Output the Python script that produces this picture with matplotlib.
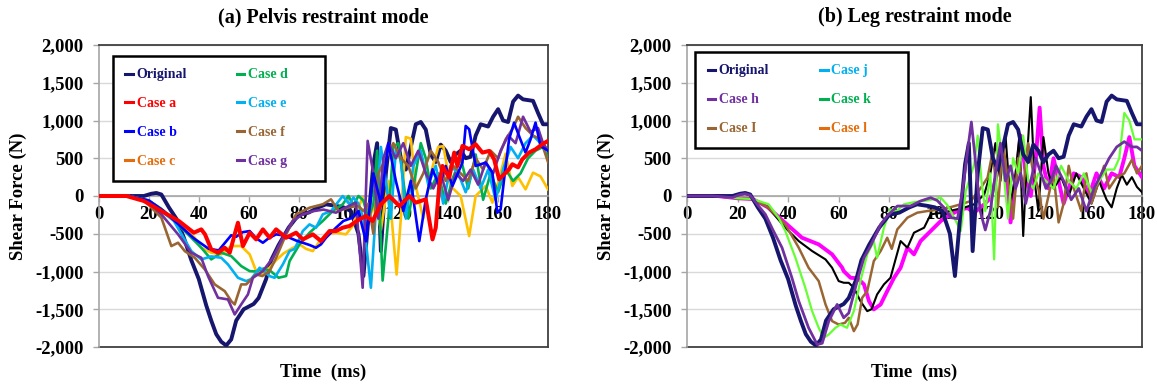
import matplotlib
matplotlib.use("Agg")
import matplotlib.pyplot as plt
from matplotlib.lines import Line2D
from matplotlib.ticker import FuncFormatter

plt.rcParams['font.family'] = ['Liberation Serif', 'DejaVu Serif']
plt.rcParams['font.weight'] = 'bold'

# ---------------- data ----------------
x_ticks = [0, 20, 40, 60, 80, 100, 120, 140, 160, 180]
y_ticks = [-2000, -1500, -1000, -500, 0, 500, 1000, 1500, 2000]

orig_t = [0, 10, 18, 21, 23, 25, 28, 31, 34, 37, 40, 43, 45, 47, 49, 51, 53, 55, 58, 62, 64, 67, 69, 72, 76, 80,
          84, 88, 91, 95, 98, 101, 104, 106, 108, 110, 111.5, 113, 115, 117, 119, 121, 123, 125, 127, 129, 131,
          133, 135, 137, 139, 141, 143, 145, 147, 149, 151, 153, 156, 158, 160, 162, 164, 166, 168, 170, 172,
          174, 176, 178, 180]
orig_v = [0, 0, 0, 30, 40, 20, -150, -300, -550, -850, -1100, -1450, -1650, -1830, -1930, -1980, -1900, -1650,
          -1500, -1430, -1350, -1100, -850, -650, -420, -250, -220, -150, -110, -130, -150, -200, -500, -1060,
          -300, 420, 700, -730, 300, 900, 880, 500, 350, 650, 950, 980, 880, 550, 450, 680, 600, 450, 550, 600,
          500, 520, 800, 950, 920, 1050, 1150, 1000, 980, 1250, 1330, 1280, 1270, 1260, 1100, 950, 950]

a_t = [0, 11, 18, 25, 32, 38, 41, 42.5, 45, 47.7, 50.4, 52.4, 54.4, 55.7, 57.7, 60.4, 63, 65.7, 68.4, 71, 75, 79,
       81.7, 85.7, 89, 92.4, 95, 97.7, 100.4, 104.4, 107, 109.7, 113, 116.4, 120.4, 124.4, 127, 131, 133.7, 135,
       136.4, 137.7, 140.4, 142.4, 143.7, 145.7, 148.4, 151, 153.7, 156.4, 158.4, 160.4, 161.7, 164.4, 165.7,
       168, 169.7, 172.4, 175, 177.7, 180]
a_v = [0, 0, -66, -199, -331, -486, -442, -508, -707, -751, -685, -751, -508, -354, -663, -486, -575, -442, -553,
       -442, -553, -486, -575, -508, -597, -464, -464, -420, -398, -309, -265, -331, -110, 0, -133, 0, -88, -44,
       -575, -420, 133, 398, 243, 575, 398, 663, 619, 685, 575, 597, 486, 221, 265, 354, 420, 380, 486, 575,
       619, 685, 730]

b_t = [0, 12, 20, 26, 32, 38, 44, 48, 51, 53, 55, 57.5, 60.4, 63, 65.7, 68, 71, 73.5, 76.4, 79, 81.7, 84.5, 87,
       89, 91, 95, 98, 101.7, 104, 107, 110, 113, 116, 119, 122, 125, 128.4, 131, 133.7, 136.4, 139, 141.7,
       145.7, 147, 148.4, 151, 155, 157.7, 159.7, 161, 162.4, 164.4, 166.4, 168.4, 171, 173, 175, 177, 180]
b_v = [0, 0, -60, -200, -380, -560, -700, -720, -600, -520, -540, -480, -464, -560, -619, -560, -508, -520, -553,
       -590, -619, -650, -685, -640, -553, -420, -330, -287, -200, -600, 300, -100, 700, 200, -200, 200, -597,
       -44, 354, 133, 398, 133, 442, 928, 884, 398, 442, 309, -221, -177, 221, 751, 972, 795, 575, 750, 972,
       663, 600]

c_t = [0, 12, 20, 25, 32, 38.4, 41, 45, 49, 53, 57, 60.4, 63, 65, 68.4, 71, 74, 77, 80.4, 83, 85.7, 88, 91, 95,
       99, 101.7, 104, 105.7, 108, 111, 113, 116, 119.3, 121, 123, 125, 127, 130, 133, 136, 138, 141, 145, 148.4,
       151, 155, 157.7, 160.4, 163, 165.7, 168, 171, 174, 177, 180]
c_v = [0, 0, -70, -199, -360, -553, -685, -751, -773, -663, -663, -773, -995, -1039, -950, -850, -760, -700,
       -640, -700, -730, -620, -508, -486, -508, -398, -150, -22, -300, -100, -450, 200, -1040, -300, 780, 760,
       130, -300, 300, 650, 660, 130, 0, -530, 0, 133, -88, 221, 560, 133, 250, 88, 309, 260, 88]

d_t = [0, 12, 20, 25, 29, 35.7, 41, 45, 49, 53, 57, 60.4, 63, 66, 69, 72, 75, 76.4, 80.4, 84.4, 89.7, 93.7, 97.7,
       100, 102, 104, 106, 108, 110, 111.5, 113.7, 116, 118, 120, 122, 124, 126, 129, 131, 133, 136, 139, 142,
       145, 148, 151, 154, 157, 160, 163, 166, 169, 172, 175, 178, 180]
d_v = [0, 0, -60, -170, -287, -508, -685, -840, -751, -796, -928, -995, -1000, -960, -1000, -1083, -1060, -862,
       -640, -486, -331, -199, -110, 0, -120, 0, -60, -300, -100, 600, -1120, -300, 650, 700, 200, -300, 100,
       700, 500, 100, 300, -100, 250, 500, 100, 550, -50, 300, 50, 350, 200, 300, 500, 600, 650, 500]

e_t = [0, 12, 20, 25, 30, 37, 41, 45, 49, 51.7, 55.7, 59, 61, 64.4, 68.4, 70.4, 73.7, 76.4, 78.5, 81.7, 84.4, 87,
       89.7, 93, 97.7, 100.4, 102, 104, 106, 109, 111, 113, 115, 117, 119, 121, 123, 126, 129, 132, 135, 138,
       141, 144, 147, 150, 153, 156, 159, 162, 165, 168, 171, 174, 177, 180]
e_v = [0, 0, -60, -200, -330, -730, -840, -800, -818, -906, -1083, -1127, -1100, -950, -1061, -1083, -906, -729,
       -700, -464, -376, -420, -243, -200, 0, -110, -20, -100, -300, -1215, -200, 650, 200, -300, 600, 500,
       -300, 400, 600, 150, 400, -100, 400, 300, 50, 350, 100, 350, -50, 350, 650, 500, 700, 800, 700, 600]

f_t = [0, 12, 18.4, 25, 29, 31.7, 34.4, 38.4, 42.4, 46.4, 50.4, 53, 54.4, 57, 59, 63, 65.5, 68.4, 71, 75, 79,
       84.4, 89.7, 93, 96, 100, 104, 106, 108, 110, 112, 115, 118, 121, 124, 127, 130, 133, 136, 139, 142, 145,
       148, 151, 154, 157, 160, 163, 166, 168, 171, 174, 177, 180]
f_v = [0, 0, -66, -287, -663, -619, -730, -818, -972, -1171, -1260, -1392, -1436, -1171, -1171, -1039, -1060,
       -995, -818, -508, -243, -155, -110, -44, -200, -150, -130, -200, -100, -500, 300, 500, 700, 500, 400, 100,
       300, 600, 450, 200, 400, 300, 200, 500, 350, 600, 500, 750, 900, 1050, 900, 800, 750, 450]

g_t = [0, 12, 20, 25, 31.7, 37, 41, 43.7, 47.7, 51.7, 54.4, 57, 59.7, 61.7, 65.7, 69.7, 73.7, 77.7, 81.7, 86,
       90, 95, 99, 103, 105.7, 107.7, 110, 112, 114, 116, 119, 122, 125, 128, 131, 134, 137, 140, 143, 146, 149,
       152, 155, 158, 161, 164, 167, 170, 173, 176, 178, 180]
g_v = [0, 0, -80, -243, -508, -751, -818, -1061, -1348, -1370, -1569, -1436, -1304, -1083, -995, -818, -553,
       -331, -243, -200, -180, -221, -150, -88, -1215, 730, 300, -300, 500, 700, 500, 700, 400, 600, 300, 100,
       300, -50, 300, 200, 350, 150, 450, 300, 600, 800, 700, 1050, 850, 900, 700, 600]

h_t = [0, 10, 18, 21, 23, 25, 28, 31, 34, 37.6, 41.5, 44.2, 48.1, 51.5, 53.5, 56.1, 59.4, 62, 64, 67.3, 70, 72.6,
       76.6, 79.2, 83.2, 88.5, 92.4, 96.4, 99, 101.7, 104.4, 107, 109, 111, 112.5, 114, 116, 118, 120, 122, 124,
       126, 128, 130, 132, 134, 136, 138, 140, 142, 144, 146, 149, 152, 155, 158, 161, 164, 167, 170, 173, 176,
       178, 180]
h_v = [0, 0, -20, 20, 30, 10, -120, -243, -450, -685, -1083, -1392, -1746, -1967, -1950, -1657, -1436, -1613,
       -1550, -1127, -818, -663, -376, -265, -133, -133, -66, -22, -60, -155, -287, -300, 66, 600, 980, 500,
       -200, -450, -200, 300, 700, 200, 400, 100, 300, -100, 200, 500, 300, 100, 200, 400, 200, -50, 100, -200,
       100, 300, 500, 650, 720, 650, 650, 600]

k_t = [0, 12, 20, 26, 32.3, 36.2, 38.9, 42.9, 46.8, 49.5, 52.1, 54.1, 56.1, 58.7, 60.7, 63.3, 66, 68.6, 71.3,
       73.9, 75.2, 77.9, 80.5, 83, 85.8, 90, 95, 100.4, 103, 105.7, 108.3, 110.3, 113.6, 115, 116.5, 118, 120,
       121.5, 123, 125, 127, 129, 131, 133, 135, 137, 139, 142, 145, 148, 151, 154, 157, 160, 163, 166, 169,
       171, 173, 175, 177, 180]
k_v = [0, 0, -30, -40, -110, -287, -464, -818, -1215, -1525, -1746, -1878, -1834, -1746, -1702, -1746, -1525,
       -1127, -773, -600, -818, -420, -177, -200, -110, -80, -60, -22, -120, -287, -464, 66, 420, 800, 200,
       -200, 300, -840, 950, 400, -300, 500, 300, 800, 200, 100, 300, 200, 100, 400, 200, 100, 300, 50, 200,
       350, 350, 500, 1100, 1000, 750, 750]

i_t = [0, 12, 20, 26, 32, 38.9, 44.2, 48.1, 52.1, 54.8, 57.4, 60, 62.5, 64, 66, 67.5, 69.3, 71.3, 73.9, 76.6,
       79.2, 81, 83.2, 87.2, 91.1, 95.1, 100.4, 104, 108.3, 112.3, 116.3, 118.9, 121, 123, 125, 127, 129, 131,
       133, 135, 137, 139, 141, 143, 145, 147, 149, 151, 153, 156, 158, 160, 163, 165, 167, 170, 173, 176, 178,
       180]
i_v = [0, 0, -30, -40, -150, -376, -685, -950, -1127, -1436, -1657, -1702, -1680, -1613, -1790, -1700, -1348,
       -1260, -862, -729, -553, -700, -442, -287, -221, -199, -177, -150, -110, -66, 110, 243, 600, -150, 700,
       200, -300, 500, 100, 700, 300, 100, -300, 0, 300, -350, -100, 400, 100, -200, 300, -100, 200, 400, 100,
       250, 300, 480, 300, 400]

j_t = [0, 12, 20, 26, 32, 38.9, 44.2, 49.5, 54.8, 57.4, 60, 62, 64, 66, 68.6, 71.3, 73, 75.2, 77.9, 80.5, 82,
       84.5, 87.2, 89.8, 93.8, 96.4, 99, 101.7, 105, 109.6, 113.6, 117.6, 120, 122, 124, 126, 128, 130, 131.5,
       133, 134.5, 136, 137.5, 139, 141, 143, 145, 148, 151, 154, 157, 160, 163, 166, 168, 170, 172, 174, 176,
       178, 180]
j_v = [0, 0, -30, -40, -150, -420, -597, -729, -840, -950, -1127, -1149, -1150, -1215, -1392, -1525, -1500,
       -1304, -1171, -1083, -900, -597, -685, -486, -420, -243, -230, -221, -190, -155, -110, 22, 300, 700, 200,
       800, -100, 300, 800, -530, 500, 1310, 200, -200, 780, 300, 100, 250, 0, 300, 100, -100, 200, -50, -150,
       100, 280, 150, 250, 120, 50]

l_t = [0, 12, 20, 26, 32, 38, 45.5, 52.1, 57.4, 61.4, 62, 64.7, 67.5, 70, 72, 73.9, 76.6, 79.2, 81.9, 84.5, 87.2,
       89.8, 92.4, 96.4, 100.4, 104, 108.3, 111, 113.6, 117.6, 120.2, 122, 124, 126, 128, 130, 132, 134, 136,
       138, 139.5, 141, 143, 145, 147, 149, 151, 153, 156, 159, 162, 165, 168, 171, 173, 175, 177, 180]
l_v = [0, 0, -30, -40, -150, -330, -553, -641, -773, -950, -995, -1083, -1090, -1171, -1392, -1502, -1436, -1260,
       -1083, -950, -685, -773, -597, -464, -331, -250, -177, -160, -221, -110, -22, 200, 600, 300, -350, 200,
       800, 300, 0, 500, 1170, 400, 100, 500, 200, -100, 100, 300, 250, 0, 300, 100, 300, 250, 500, 780, 400,
       250]

legend_a_labels = ['Original', 'Case a', 'Case b', 'Case c', 'Case d', 'Case e', 'Case f', 'Case g']
legend_b_labels = ['Original', 'Case h', 'Case I', 'Case j', 'Case k', 'Case l']

# ---------------- styles ----------------
NAVY = '#16166E'
C_RED = '#FF0000'
C_BLUE = '#0000FF'
C_YEL = '#FFC000'
C_ORG = '#E46C0A'
C_GRN = '#00B050'
C_CYN = '#00B0F0'
C_BRN = '#996633'
C_PUR = '#7030A0'
C_LGRN = '#66FF33'
C_MAG = '#FF00FF'
C_BLK = '#000000'

W, H = 1157, 386
fig = plt.figure(figsize=(W / 100, H / 100), dpi=100)
fig.patch.set_facecolor('white')

ax_a = fig.add_axes([99 / W, 1 - 347 / H, 449 / W, 302 / H])
ax_b = fig.add_axes([687 / W, 1 - 347 / H, 455 / W, 302 / H])

fmt = FuncFormatter(lambda v, p: f"{int(v):,}")


def style_axes(ax):
    ax.set_xlim(0, 180)
    ax.set_ylim(-2000, 2000)
    ax.set_xticks(x_ticks)
    ax.set_yticks(y_ticks)
    ax.yaxis.set_major_formatter(fmt)
    ax.grid(axis='y', color='#D9D9D9', lw=1.0, zorder=0)
    ax.set_axisbelow(True)
    ax.spines['bottom'].set_position(('data', 0))
    ax.spines['bottom'].set_color('#A6A6A6')
    ax.spines['bottom'].set_linewidth(1.2)
    ax.spines['left'].set_color('#A6A6A6')
    ax.spines['left'].set_linewidth(1.2)
    for s in ('top', 'right'):
        ax.spines[s].set_color('#404040')
        ax.spines[s].set_linewidth(1.3)
    ax.axhline(-2000, color='#404040', lw=1.3, clip_on=False, zorder=1)
    ax.tick_params(axis='x', direction='out', length=4, width=1, color='#A6A6A6', pad=3, labelsize=13.5)
    ax.tick_params(axis='y', direction='out', length=4, width=1, color='#A6A6A6', pad=7, labelsize=13.5)
    for lab in ax.get_xticklabels() + ax.get_yticklabels():
        lab.set_fontweight('bold')
    ax.set_ylabel('Shear Force (N)', fontsize=13.5, fontweight='bold', labelpad=6)
    ax.text(0.5, -0.085, 'Time  (ms)', transform=ax.transAxes, ha='center', va='center',
            fontsize=13.5, fontweight='bold')


style_axes(ax_a)
style_axes(ax_b)

# ---------------- panel (a) ----------------
ax_a.plot(orig_t, orig_v, color=NAVY, lw=2.8, zorder=3, solid_joinstyle='round')
ax_a.plot(c_t, c_v, color=C_YEL, lw=1.9, zorder=3, solid_joinstyle='round')
ax_a.plot(d_t, d_v, color=C_GRN, lw=1.9, zorder=3, solid_joinstyle='round')
ax_a.plot(e_t, e_v, color=C_CYN, lw=1.9, zorder=3, solid_joinstyle='round')
ax_a.plot(f_t, f_v, color=C_BRN, lw=1.9, zorder=3, solid_joinstyle='round')
ax_a.plot(g_t, g_v, color=C_PUR, lw=1.9, zorder=3, solid_joinstyle='round')
ax_a.plot(b_t, b_v, color=C_BLUE, lw=1.9, zorder=3, solid_joinstyle='round')
ax_a.plot(a_t, a_v, color=C_RED, lw=2.9, zorder=4, solid_joinstyle='round')

# ---------------- panel (b) ----------------
ax_b.plot(l_t, l_v, color=C_MAG, lw=2.8, zorder=3, solid_joinstyle='round')
ax_b.plot(j_t, j_v, color=C_BLK, lw=1.5, zorder=3, solid_joinstyle='round')
ax_b.plot(i_t, i_v, color=C_BRN, lw=1.8, zorder=3, solid_joinstyle='round')
ax_b.plot(k_t, k_v, color=C_LGRN, lw=1.6, zorder=3, solid_joinstyle='round')
ax_b.plot(orig_t, orig_v, color=NAVY, lw=2.8, zorder=3, solid_joinstyle='round')
ax_b.plot(h_t, h_v, color=C_PUR, lw=2.0, zorder=3, solid_joinstyle='round')


# ---------------- legends ----------------
def add_legend(ax, labels, colors, anchor):
    n = len(labels) // 2
    # trailing spaces widen the second column so it sits where the reference puts it
    shown = labels[:n] + [lab + '       ' for lab in labels[n:]]
    handles = [Line2D([], [], color=c, lw=2.2) for c in colors]
    leg = ax.legend(handles, shown, ncol=2, loc='upper left', bbox_to_anchor=anchor, mode='expand',
                    frameon=True, fancybox=False, shadow=False, framealpha=1, edgecolor='black',
                    handlelength=0.55, handletextpad=0.25, borderpad=0.9, labelspacing=1.15,
                    columnspacing=1.0, borderaxespad=0,
                    prop={'family': 'Liberation Serif', 'weight': 'bold', 'size': 10},
                    labelcolor=colors)
    leg.get_frame().set_linewidth(1.8)
    leg.set_zorder(6)
    return leg


add_legend(ax_a, legend_a_labels,
           [NAVY, C_RED, C_BLUE, C_ORG, C_GRN, C_CYN, C_BRN, C_PUR],
           (0.031, 0.5, 0.472, 0.464))
add_legend(ax_b, legend_b_labels,
           [NAVY, C_PUR, C_BRN, C_CYN, C_GRN, C_ORG],
           (0.018, 0.5, 0.468, 0.477))

# ---------------- titles ----------------
ax_a.text(0.5, 1 + 28 / 302, '(a) Pelvis restraint mode', transform=ax_a.transAxes, ha='center', va='center',
          fontsize=14.5, fontweight='bold')
ax_b.text(0.5, 1 + 28 / 302, '(b) Leg restraint mode', transform=ax_b.transAxes, ha='center', va='center',
          fontsize=14.5, fontweight='bold')

fig.savefig('out.png', dpi=100, facecolor='white')
